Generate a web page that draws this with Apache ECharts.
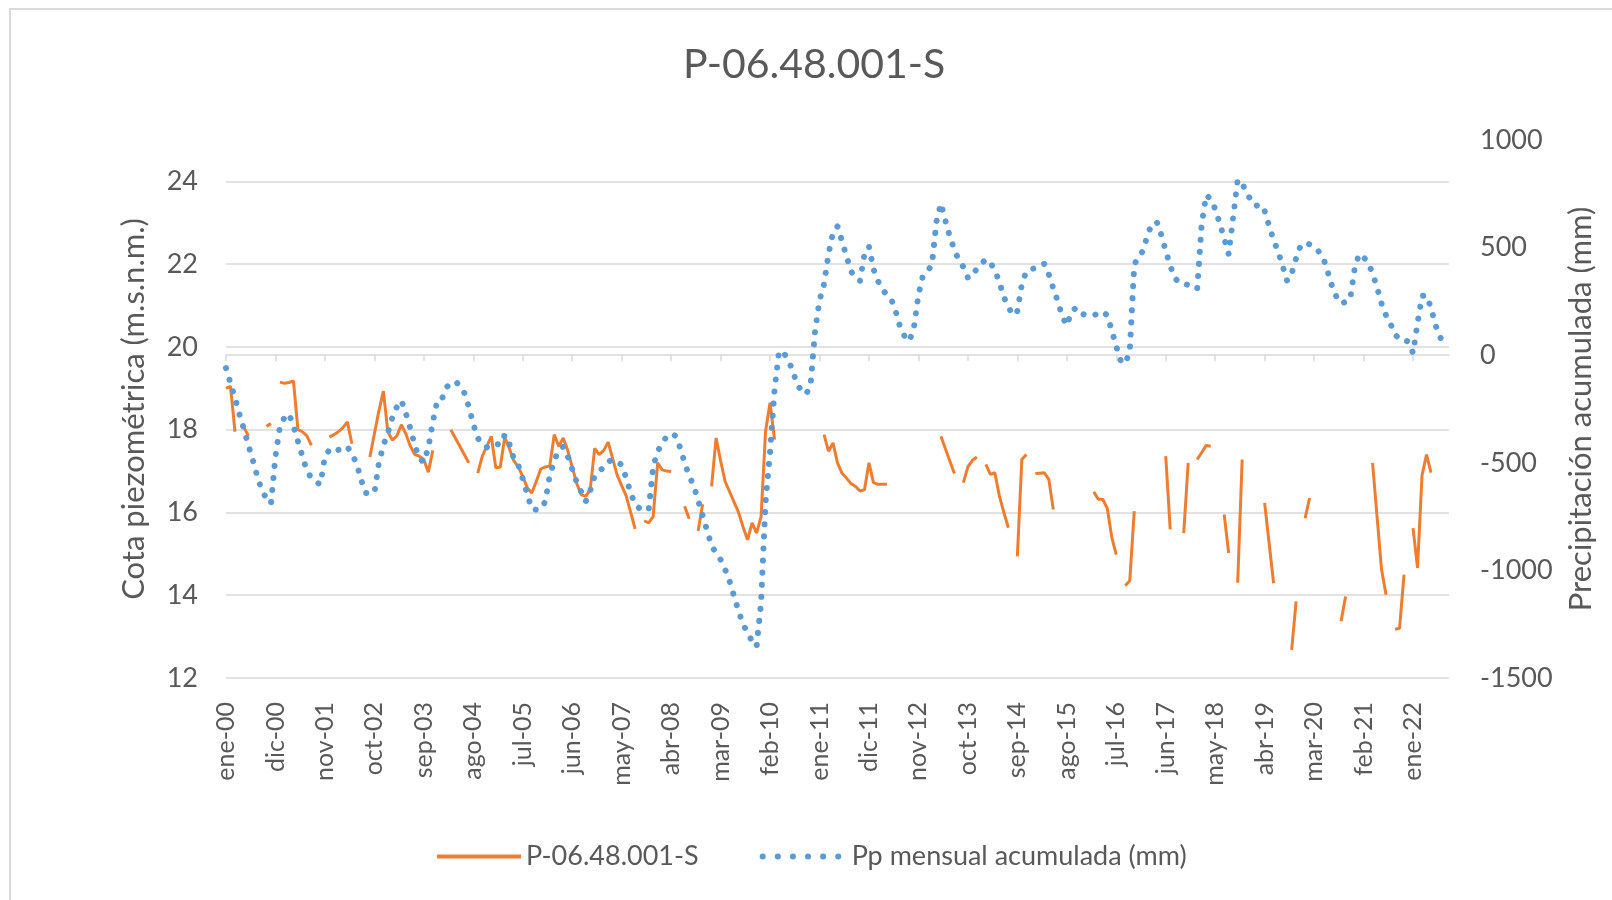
<!DOCTYPE html>
<html>
<head>
<meta charset="utf-8">
<script src="https://cdn.jsdelivr.net/npm/echarts@6/dist/echarts.min.js"></script>
<style>
  html, body { margin: 0; padding: 0; background: #fff; }
  #chart { width: 1612px; height: 900px; }
</style>
</head>
<body>
<div id="chart"></div>
<script>
// meses del eje (ene-00 ... sep-22)
const monthNames = ['ene', 'feb', 'mar', 'abr', 'may', 'jun', 'jul', 'ago', 'sep', 'oct', 'nov', 'dic']
const startYear = 2000
const monthCount = 273
const categories = []
for (let i = 0; i < monthCount; i++) {
  const yy = String((startYear + Math.floor(i / 12)) % 100).padStart(2, '0')
  categories.push(monthNames[i % 12] + '-' + yy)
}

// Cota piezométrica (m.s.n.m.), null = sin medición
const cotaValues = [
  19.0, 19.05, 17.95, null, 18.05, 17.85, null, null, null, 18.08,
  18.15, null, 19.15, 19.12, 19.14, 19.18, 18.0, 17.95, 17.85, 17.62,
  null, null, null, 17.82, 17.88, 17.95, 18.05, 18.19, 17.66, null,
  null, null, 17.34, 17.9, 18.45, 18.93, 17.95, 17.75, 17.85, 18.12,
  17.9, 17.6, 17.4, 17.36, 17.28, 16.97, 17.5, null, null, null,
  18.0, 17.8, 17.6, 17.4, 17.2, null, 16.95, 17.36, 17.6, 17.84,
  17.08, 17.1, 17.82, 17.55, 17.25, 17.1, 16.87, 16.6, 16.47, 16.75,
  17.05, 17.1, 17.12, 17.88, 17.6, 17.8, 17.5, 17.1, 16.7, 16.43,
  16.39, 16.55, 17.55, 17.4, 17.5, 17.7, 17.3, 16.9, 16.65, 16.4,
  16.0, 15.6, null, 15.8, 15.75, 15.9, 17.2, 17.03, 17.0, 16.99,
  null, null, 16.15, 15.85, null, 15.55, 16.2, null, 16.63, 17.8,
  17.25, 16.75, 16.5, 16.25, 16.0, 15.65, 15.34, 15.75, 15.5, 15.9,
  17.96, 18.65, 17.76, null, null, null, null, null, null, null,
  null, null, null, 17.88, 17.48, 17.68, 17.2, 16.95, 16.83, 16.7,
  16.63, 16.52, 16.55, 17.2, 16.72, 16.68, 16.68, 16.68, null, null,
  null, null, null, null, null, null, null, null, null, 17.84,
  17.54, 17.24, 16.94, null, 16.72, 17.1, 17.26, 17.34, null, 17.16,
  16.92, 16.96, 16.4, 16.0, 15.63, null, 14.94, 17.28, 17.4, null,
  16.94, 16.95, 16.96, 16.8, 16.07, null, null, null, null, null,
  null, null, null, 16.5, 16.32, 16.32, 16.1, 15.4, 14.98, null,
  14.23, 14.35, 16.03, null, null, null, null, null, null, 17.36,
  15.59, null, null, 15.5, 17.2, null, 17.28, 17.45, 17.62, 17.6,
  null, null, 15.95, 15.02, null, 14.3, 17.28, null, null, null,
  null, 16.23, 15.25, 14.29, null, null, null, 12.68, 13.85, null,
  15.86, 16.35, null, null, null, null, null, null, 13.37, 13.97,
  null, null, null, null, null, 17.2, 15.9, 14.62, 14.01, null,
  13.18, 13.2, 14.5, null, 15.62, 14.66, 16.9, 17.4, 16.96, null,
  null, null, null
]

// Pp mensual acumulada (mm)
const ppValues = [
  -60, -130, -200, -275, -345, -420, -490, -565, -630, -665,
  -690, -470, -330, -290, -272, -330, -400, -470, -540, -570,
  -590, -600, -470, -440, -430, -440, -438, -425, -460, -500,
  -575, -640, -640, -640, -500, -420, -360, -290, -240, -210,
  -270, -340, -420, -480, -497, -430, -310, -210, -205, -150,
  -130, -122, -140, -175, -240, -320, -385, -415, -428, -412,
  -412, -416, -370, -410, -480, -510, -575, -645, -715, -718,
  -715, -680, -560, -490, -440, -425, -470, -530, -590, -635,
  -680, -630, -560, -535, -525, -495, -485, -495, -510, -570,
  -640, -695, -712, -715, -720, -520, -445, -415, -375, -365,
  -375, -430, -500, -560, -605, -675, -745, -815, -885, -920,
  -950, -995, -1050, -1120, -1190, -1250, -1290, -1330, -1355, -1150,
  -680, -450, -160, 20, 12, -20, -70, -135, -165, -182,
  -140, 110, 255, 330, 470, 570, 598, 530, 460, 390,
  360, 345, 470, 505, 400, 345, 305, 280, 258, 200,
  125, 85, 65, 130, 280, 370, 390, 420, 620, 705,
  625, 550, 490, 440, 410, 360, 365, 405, 425,
  446, 430, 395, 340, 270, 225, 185, 205, 330, 390,
  400, 404, 412, 425, 375, 310, 250, 180, 138, 200,
  220, 195, 188, 185, 185, 195, 203, 185, 115, 40,
  -25, -40, 20, 420, 462, 485, 565, 610, 620, 560,
  485, 415, 360, 335, 330, 327, 318, 308, 610, 745,
  725, 680, 613, 543, 470, 640, 815, 800, 752, 720,
  693, 702, 670, 600, 535, 480, 415, 345, 380, 450,
  510, 523, 515, 505, 482, 455, 390, 320, 270, 240,
  248, 258, 400, 470, 455, 431, 380, 315, 240, 185,
  146, 95, 77, 77, 60, 10, 150, 276, 278, 220,
  140, 85, 45
]

const FONT = 'Lato, "Liberation Sans", sans-serif'
const TEXT_COLOR = '#595959'
const GRID_COLOR = '#d9d9d9'
const ORANGE = '#ED7D31'
const BLUE = '#5B9BD5'

const chart = echarts.init(document.getElementById('chart'))

const option = {
  animation: false,
  backgroundColor: '#fff',
  textStyle: { fontFamily: FONT, color: TEXT_COLOR },
  graphic: [
    {
      type: 'rect',
      silent: true,
      z: -1,
      shape: { x: 10, y: 9, width: 1700, height: 1000 },
      style: { fill: 'none', stroke: GRID_COLOR, lineWidth: 2 }
    }
  ],
  title: {
    text: 'P-06.48.001-S',
    left: 678,
    top: 39,
    textStyle: { fontFamily: FONT, fontSize: 41, fontWeight: 'normal', color: TEXT_COLOR }
  },
  legend: {
    left: 430,
    top: 838,
    itemWidth: 84,
    itemHeight: 14,
    itemGap: 61,
    itemStyle: { opacity: 0 },
    textStyle: { fontFamily: FONT, fontSize: 27, color: TEXT_COLOR },
    data: [
      { name: 'P-06.48.001-S', lineStyle: { color: ORANGE, width: 4 } },
      { name: 'Pp mensual acumulada (mm)', lineStyle: { color: BLUE, width: 6, type: [0.1, 15], cap: 'round' } }
    ]
  },
  grid: {
    left: 226,
    right: 163,
    top: 140,
    bottom: 222
  },
  xAxis: {
    type: 'category',
    boundaryGap: false,
    data: categories,
    axisLine: { lineStyle: { color: GRID_COLOR, width: 1.5 } },
    axisTick: { show: true, interval: 10, length: 6, lineStyle: { color: GRID_COLOR, width: 1.5 } },
    axisLabel: {
      interval: 10,
      rotate: 90,
      margin: 24,
      fontSize: 25,
      fontFamily: FONT,
      color: TEXT_COLOR
    }
  },
  yAxis: [
    {
      type: 'value',
      position: 'left',
      min: 12,
      max: 25,
      interval: 2,
      name: 'Cota piezométrica (m.s.n.m.)',
      nameLocation: 'middle',
      nameRotate: 90,
      nameGap: 77,
      nameTextStyle: { fontFamily: FONT, fontSize: 31, color: TEXT_COLOR },
      axisLine: { show: false },
      axisTick: { show: false },
      axisLabel: { showMaxLabel: false, margin: 28, fontSize: 27, fontFamily: FONT, color: TEXT_COLOR },
      splitLine: { show: true, showMaxLine: false, lineStyle: { color: GRID_COLOR, width: 1.5 } }
    },
    {
      type: 'value',
      position: 'right',
      min: -1500,
      max: 1000,
      interval: 500,
      name: 'Precipitación acumulada (mm)',
      nameLocation: 'middle',
      nameRotate: 90,
      nameGap: 116,
      nameTextStyle: { fontFamily: FONT, fontSize: 31, color: TEXT_COLOR },
      axisLine: { show: false },
      axisTick: { show: false },
      axisLabel: {
        margin: 31,
        fontSize: 27,
        fontFamily: FONT,
        color: TEXT_COLOR,
        formatter: (v) => String(v)
      },
      splitLine: { show: false }
    }
  ],
  series: [
    {
      name: 'P-06.48.001-S',
      type: 'line',
      yAxisIndex: 0,
      data: cotaValues,
      symbol: 'none',
      connectNulls: false,
      itemStyle: { color: ORANGE },
      lineStyle: { color: ORANGE, width: 3 }
    },
    {
      name: 'Pp mensual acumulada (mm)',
      type: 'line',
      yAxisIndex: 1,
      data: ppValues,
      symbol: 'none',
      itemStyle: { color: BLUE },
      lineStyle: { color: BLUE, width: 6, type: [0.1, 12], cap: 'round' }
    }
  ]
}

chart.setOption(option)
window.addEventListener('resize', () => chart.resize())
</script>
</body>
</html>
